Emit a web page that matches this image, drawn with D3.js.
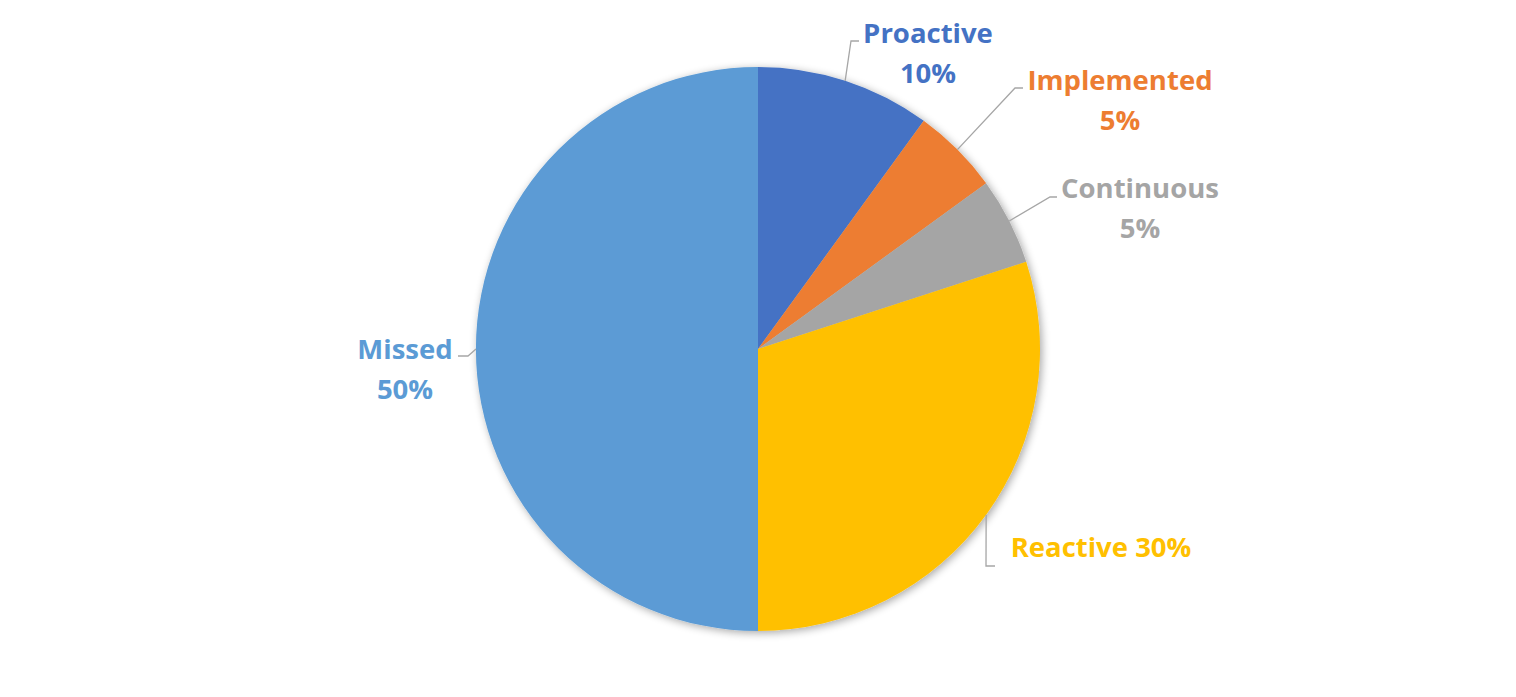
<!DOCTYPE html>
<html>
<head>
<meta charset="utf-8">
<script src="https://cdn.jsdelivr.net/npm/d3@7"></script>
<style>
  html, body { margin: 0; padding: 0; background: #fff; }
  svg { display: block; }
  text { font-family: "Open Sans", Lato, sans-serif; font-weight: 700; }
</style>
</head>
<body>
<svg id="chart" width="1516" height="697"></svg>
<script>
// Data
const categories = ["Proactive", "Implemented", "Continuous", "Reactive", "Missed"];
const values = [10, 5, 5, 30, 50];
const colors = ["#4472C4", "#ED7D31", "#A5A5A5", "#FFC000", "#5B9BD5"];

// Layout (label placement, separate from data)
const labelLayout = [
  { x: 928, y: 32, lines: 2, elbow: [851, 41], end: [859, 41] },
  { x: 1120, y: 79, lines: 2, elbow: [1015, 88], end: [1023, 88] },
  { x: 1140, y: 187, lines: 2, elbow: [1050, 197], end: [1057, 197] },
  { x: 1101, y: 546, lines: 1, elbow: [986, 566], end: [995, 566] },
  { x: 405, y: 348, lines: 2, elbow: [468, 356], end: [458, 356] }
];

const svg = d3.select("#chart");
const cx = 758, cy = 349, R = 282;

const defs = svg.append("defs");
const f = defs.append("filter").attr("id", "shadow").attr("x", "-20%").attr("y", "-20%").attr("width", "140%").attr("height", "140%");
f.append("feGaussianBlur").attr("in", "SourceAlpha").attr("stdDeviation", 4).attr("result", "blur");
f.append("feOffset").attr("in", "blur").attr("dx", 2).attr("dy", 2).attr("result", "off");
f.append("feComponentTransfer").attr("in", "off").attr("result", "sh")
  .append("feFuncA").attr("type", "linear").attr("slope", 0.35);
const m = f.append("feMerge");
m.append("feMergeNode").attr("in", "sh");
m.append("feMergeNode").attr("in", "SourceGraphic");

const data = categories.map((c, i) => ({ name: c, value: values[i], color: colors[i], layout: labelLayout[i] }));
const pie = d3.pie().value(d => d.value).sort(null);
const arcs = pie(data);
const arc = d3.arc().innerRadius(0).outerRadius(R);

const g = svg.append("g").attr("transform", `translate(${cx},${cy})`);
g.append("g").attr("filter", "url(#shadow)")
  .selectAll("path").data(arcs).enter().append("path")
  .attr("d", arc)
  .attr("fill", d => d.data.color);

// Leader lines
arcs.forEach(a => {
  const mid = (a.startAngle + a.endAngle) / 2;
  const sx = cx + R * Math.sin(mid), sy = cy - R * Math.cos(mid);
  const L = a.data.layout;
  svg.append("polyline")
    .attr("points", `${sx},${sy} ${L.elbow[0]},${L.elbow[1]} ${L.end[0]},${L.end[1]}`)
    .attr("fill", "none").attr("stroke", "#A6A6A6").attr("stroke-width", 1.3);
});

// Labels
const total = d3.sum(values);
arcs.forEach(a => {
  const L = a.data.layout;
  const pct = Math.round(a.data.value / total * 100) + "%";
  const t = svg.append("text")
    .attr("text-anchor", "middle")
    .attr("dominant-baseline", "central")
    .attr("fill", a.data.color)
    .style("font-size", "27.5px");
  if (L.lines === 2) {
    t.append("tspan").attr("x", L.x).attr("y", L.y).text(a.data.name);
    t.append("tspan").attr("x", L.x).attr("y", L.y + 40).text(pct);
  } else {
    t.attr("x", L.x).attr("y", L.y).text(a.data.name + " " + pct);
  }
});
</script>
</body>
</html>
